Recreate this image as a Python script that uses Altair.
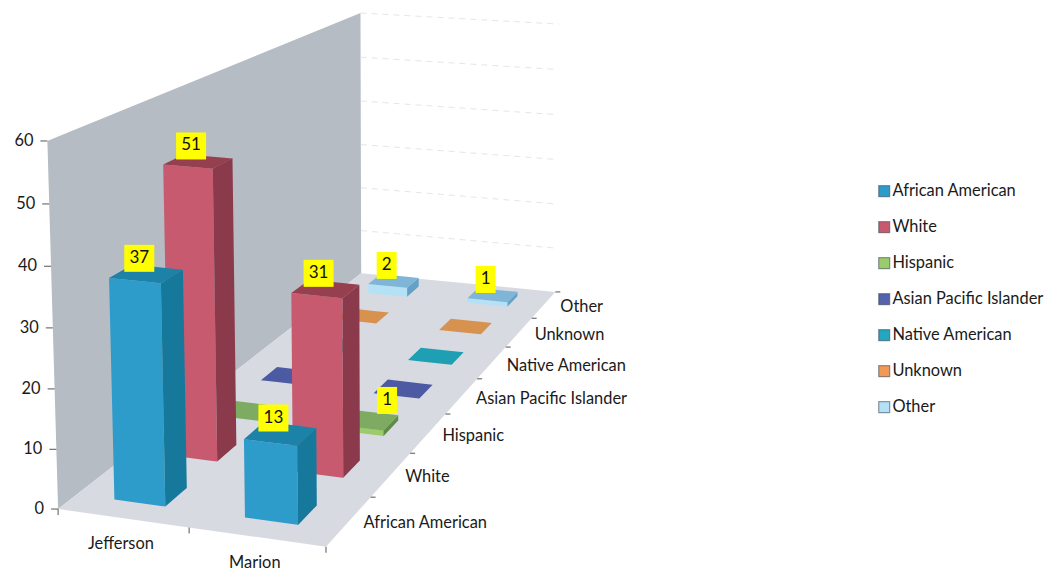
import altair as alt
import numpy as np
import pandas as pd

# ---- values ----
groups = ["Jefferson", "Marion"]
series = ["African American", "White", "Hispanic", "Asian Pacific Islander",
          "Native American", "Unknown", "Other"]
jefferson = [37, 51, 0, 0, 0, 0, 2]
marion = [13, 31, 1, 0, 0, 0, 1]
value_ticks = [0, 10, 20, 30, 40, 50, 60]

front_colors = ["#2E9CCB", "#C75A6E", "#9CCB6B", "#5563AD", "#22A7BE", "#F09A55", "#B4E1F6"]
top_colors = ["#1C82A8", "#96404F", "#7EAB62", "#4B5AA3", "#1E9FB3", "#D8924F", "#7FB5D6"]
side_colors = ["#16799C", "#8A3A4B", "#5E8C47", "#3A4785", "#167F90", "#B0713A", "#65A0C5"]
wall_color = "#B5BCC3"
floor_color = "#D8DAE2"
FONT = "Lato"

# ---- camera: a perspective map (group, series, value) -> picture position,
# calibrated on the axes' corners and tick marks ----
cal = [((0, 0, 0), (58, 507)), ((1, 0, 0), (188, 528)), ((2, 0, 0), (326, 546)),
       ((2, 7, 0), (555, 292)), ((0, 7, 0), (360, 273)), ((0, 0, 60), (47, 142)),
       ((0, 7, 60), (363, 13)), ((2, 7, 60), (557, 23)), ((0, 0, 30), (52, 329)),
       ((2, 1, 0), (372, 497)), ((2, 2, 0), (411, 453)), ((2, 3, 0), (446, 414)),
       ((2, 4, 0), (477, 379)), ((2, 5, 0), (506, 348)), ((2, 6, 0), (532, 319))]
A, b = [], []
for (u, v, h), (px, py) in cal:
    A.append([u, v, h, 1, 0, 0, 0, 0, -px * u, -px * v, -px * h]); b.append(px)
    A.append([0, 0, 0, 0, u, v, h, 1, -py * u, -py * v, -py * h]); b.append(py)
p = np.linalg.lstsq(np.array(A, float), np.array(b, float), rcond=None)[0]


def project(u, v, h):
    w = p[8] * u + p[9] * v + p[10] * h + 1
    return ((p[0] * u + p[1] * v + p[2] * h + p[3]) / w,
            (p[4] * u + p[5] * v + p[6] * h + p[7]) / w)


# ---- faces ----
rows = []
pid = 0


def add_face(corners, key):
    global pid
    pid += 1
    pts = [project(*c) for c in corners]
    xs = sorted({round(x, 3) for x, _ in pts})
    n = len(pts)
    for x in xs:
        ys = []
        for i in range(n):
            (x0, y0), (x1, y1) = pts[i], pts[(i + 1) % n]
            lo, hi = min(x0, x1), max(x0, x1)
            if lo - 0.002 <= x <= hi + 0.002:
                if abs(x1 - x0) < 1e-6:
                    ys += [y0, y1]
                else:
                    ys.append(y0 + (y1 - y0) * (x - x0) / (x1 - x0))
        rows.append({"poly": pid, "x": x, "y": min(ys), "y2": max(ys), "key": key})


add_face([(0, 0, 0), (0, 7, 0), (0, 7, 60), (0, 0, 60)], "wall")
add_face([(0, 0, 0), (2, 0, 0), (2, 7, 0), (0, 7, 0)], "floor")

BAR_U = (0.295, 0.69)
BAR_V = (0.31, 0.71)
labels = []
for si in range(len(series) - 1, -1, -1):
    v0, v1 = si + BAR_V[0], si + BAR_V[1]
    for gi, vals in enumerate([jefferson, marion]):
        h = vals[si]
        u0, u1 = gi + BAR_U[0], gi + BAR_U[1]
        name = series[si]
        if h > 0:
            add_face([(u0, v0, 0), (u1, v0, 0), (u1, v0, h), (u0, v0, h)], name)
            add_face([(u1, v0, 0), (u1, v1, 0), (u1, v1, h), (u1, v0, h)], name + " side")
        add_face([(u0, v0, h), (u1, v0, h), (u1, v1, h), (u0, v1, h)], name + " top")
        if h > 0:
            cx, cy = project((u0 + u1) / 2, (v0 + v1) / 2, h)
            half = 15 if h >= 10 else 10
            # the label of the thin Hispanic block was moved aside in the original
            dx, dy = (20, -4) if series[si] == "Hispanic" else (-7, 0)
            labels.append({"t": str(h), "x": cx + dx, "y": cy - 16 + dy,
                           "x0": cx + dx - half, "x1": cx + dx + half,
                           "y0": cy - 29 + dy, "y1": cy - 2 + dy})
faces = pd.DataFrame(rows)

domain = series + [s + " side" for s in series] + [s + " top" for s in series] + ["wall", "floor"]
colors = front_colors + side_colors + top_colors + [wall_color, floor_color]

x_scale = alt.Scale(domain=[8, 1044], nice=False, zero=False)
y_scale = alt.Scale(domain=[571, 8], nice=False, zero=False)
X = alt.X("x:Q", scale=x_scale, axis=None)
Y = alt.Y("y:Q", scale=y_scale, axis=None, stack=None)

polys = alt.Chart(faces).mark_area(interpolate="linear", strokeWidth=0).encode(
    x=X, y=Y, y2="y2:Q", detail="poly:N",
    color=alt.Color("key:N", scale=alt.Scale(domain=domain, range=colors),
                    legend=alt.Legend(values=series, title=None, orient="none",
                                      legendX=868, legendY=175, symbolType="square",
                                      symbolSize=120, symbolStrokeWidth=1.2,
                                      symbolStrokeColor="#33445588", rowPadding=19,
                                      labelFont=FONT, labelFontSize=16.4, labelColor="#1A1A1A",
                                      labelOffset=0, labelLimit=200)))

# back-wall grid lines
grid_rows = []
for t in value_ticks[1:]:
    a, c = project(0, 7, t), project(2, 7, t)
    grid_rows.append({"x": a[0], "y": a[1], "x2": c[0], "y2": c[1]})
grid = alt.Chart(pd.DataFrame(grid_rows)).mark_rule(color="#E6E6E6", strokeWidth=1, strokeDash=[6, 5]).encode(
    x=X, y=Y, x2="x2:Q", y2="y2:Q")

# tick marks
tick_rows = []
for t in value_ticks:
    a = project(0, 0, t)
    tick_rows.append({"x": a[0] - 7, "y": a[1], "x2": a[0], "y2": a[1]})
for i in range(3):
    a = project(i, 0, 0)
    tick_rows.append({"x": a[0], "y": a[1], "x2": a[0], "y2": a[1] + 6})
for i in range(1, 8):
    a = project(2, i, 0)
    tick_rows.append({"x": a[0], "y": a[1], "x2": a[0] + 5, "y2": a[1]})
ticks = alt.Chart(pd.DataFrame(tick_rows)).mark_rule(color="#555555", strokeWidth=1).encode(
    x=X, y=Y, x2="x2:Q", y2="y2:Q")

# axis labels
val_rows = [{"t": str(t), "x": project(0, 0, t)[0] - 14, "y": project(0, 0, t)[1]} for t in value_ticks]
val_text = alt.Chart(pd.DataFrame(val_rows)).mark_text(
    align="right", baseline="middle", font=FONT, fontSize=16.4, color="#1A1A1A").encode(x=X, y=Y, text="t:N")

grp_rows = []
for i, g in enumerate(groups):
    a = project(i + 0.5, 0, 0)
    grp_rows.append({"t": g, "x": a[0] - 2, "y": a[1] + 26})
grp_text = alt.Chart(pd.DataFrame(grp_rows)).mark_text(
    align="center", baseline="middle", font=FONT, fontSize=16.4, color="#1A1A1A").encode(x=X, y=Y, text="t:N")

ser_rows = []
for i, s in enumerate(series):
    a = project(2, i + 1, 0)
    ser_rows.append({"t": s, "x": a[0] - 7 + 2 * i, "y": a[1] + 26 - 1.8 * i})
ser_text = alt.Chart(pd.DataFrame(ser_rows)).mark_text(
    align="left", baseline="middle", font=FONT, fontSize=16.4, color="#1A1A1A").encode(x=X, y=Y, text="t:N")

# data labels on yellow boxes
lab = pd.DataFrame(labels)
boxes = alt.Chart(lab).mark_rect(color="#FFFF00").encode(
    x=alt.X("x0:Q", scale=x_scale, axis=None), x2="x1:Q",
    y=alt.Y("y0:Q", scale=y_scale, axis=None), y2="y1:Q")
box_text = alt.Chart(lab).mark_text(
    align="center", baseline="middle", font=FONT, fontSize=17, color="#111111").encode(x=X, y=Y, text="t:N")

chart = alt.layer(polys, grid, ticks, val_text, grp_text, ser_text, boxes, box_text).properties(
    width=1036, height=563, padding=0,
    autosize=alt.AutoSizeParams(type="none"),
    background="white",
).configure_view(stroke=None)

chart.save("out.html", embed_options={"renderer": "svg", "actions": False})
